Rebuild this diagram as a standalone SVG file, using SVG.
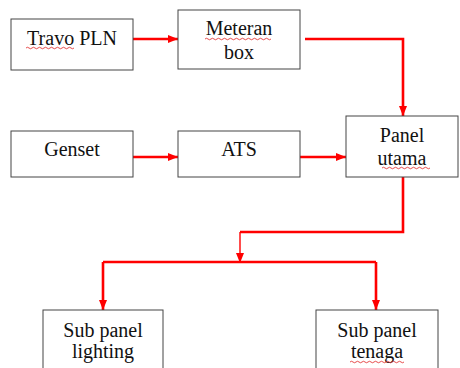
<svg xmlns="http://www.w3.org/2000/svg" width="460" height="368" viewBox="0 0 460 368">
<style>
.box{fill:#fff;stroke:#444;stroke-width:1}
.t{font-size:20px;fill:#111;text-anchor:middle}
.c{fill:none;stroke:#ff0000;stroke-width:2.6}
.thin{fill:none;stroke:#ff0000;stroke-width:1.4}
.sq{fill:none;stroke:#e02020;stroke-width:0.8}
</style>
<defs>
<marker id="ah" markerWidth="10" markerHeight="8" refX="10" refY="4" orient="auto" markerUnits="userSpaceOnUse">
<path d="M0,0 L10,4 L0,8 Z" fill="#ff0000"/>
</marker>
</defs>
<rect width="460" height="368" fill="#fff"/>
<g id="connectors">
<path class="c" d="M133,39 H178" marker-end="url(#ah)"/>
<path class="c" d="M305,39 H403 V116" marker-end="url(#ah)"/>
<path class="c" d="M133,157 H178" marker-end="url(#ah)"/>
<path class="c" d="M300,157 H346" marker-end="url(#ah)"/>
<path class="c" d="M403,177 V232 H240"/>
<path class="thin" d="M240,232 V263" marker-end="url(#ah)"/>
<path class="c" d="M103,262 H376"/>
<path class="c" d="M103,262 V310" marker-end="url(#ah)"/>
<path class="c" d="M376,262 V310" marker-end="url(#ah)"/>
</g>
<g font-family="Liberation Serif, serif">
<g id="travo">
<rect class="box" x="11" y="19" width="122" height="51"/>
<text class="t" x="72" y="45">Travo PLN</text>
<path class="sq" d="M26,48 q1.5,-1.5 3,0 t3,0 t3,0 t3,0 t3,0 t3,0 t3,0 t3,0 t3,0 t3,0 t3,0 t3,0 t3,0 t3,0 t3,0 t3,0"/>
</g>
<g id="meteran">
<rect class="box" x="178" y="10" width="122" height="59"/>
<text class="t" x="239" y="35">Meteran</text>
<text class="t" x="239" y="59">box</text>
<path class="sq" d="M205,39 q1.5,-1.5 3,0 t3,0 t3,0 t3,0 t3,0 t3,0 t3,0 t3,0 t3,0 t3,0 t3,0 t3,0 t3,0 t3,0 t3,0 t3,0 t3,0 t3,0 t3,0 t3,0 t3,0 t3,0"/>
</g>
<g id="genset">
<rect class="box" x="11" y="131" width="122" height="46"/>
<text class="t" x="72" y="156">Genset</text>
</g>
<g id="ats">
<rect class="box" x="178" y="131" width="122" height="46"/>
<text class="t" x="239" y="156">ATS</text>
</g>
<g id="panel">
<rect class="box" x="346" y="116" width="112" height="61"/>
<text class="t" x="402" y="142">Panel</text>
<text class="t" x="402" y="165">utama</text>
<path class="sq" d="M382,168 q1.5,-1.5 3,0 t3,0 t3,0 t3,0 t3,0 t3,0 t3,0 t3,0 t3,0 t3,0 t3,0 t3,0 t3,0 t3,0 t3,0 t3,0"/>
</g>
<g id="sublighting">
<rect class="box" x="43" y="310" width="120" height="70"/>
<text class="t" x="103" y="337">Sub panel</text>
<text class="t" x="103" y="358">lighting</text>
</g>
<g id="subtenaga">
<rect class="box" x="316" y="310" width="122" height="70"/>
<text class="t" x="377" y="337">Sub panel</text>
<text class="t" x="377" y="358">tenaga</text>
<path class="sq" d="M350,362 q1.5,-1.5 3,0 t3,0 t3,0 t3,0 t3,0 t3,0 t3,0 t3,0 t3,0 t3,0 t3,0 t3,0 t3,0 t3,0 t3,0 t3,0 t3,0 t3,0"/>
</g>
</g>
</svg>
